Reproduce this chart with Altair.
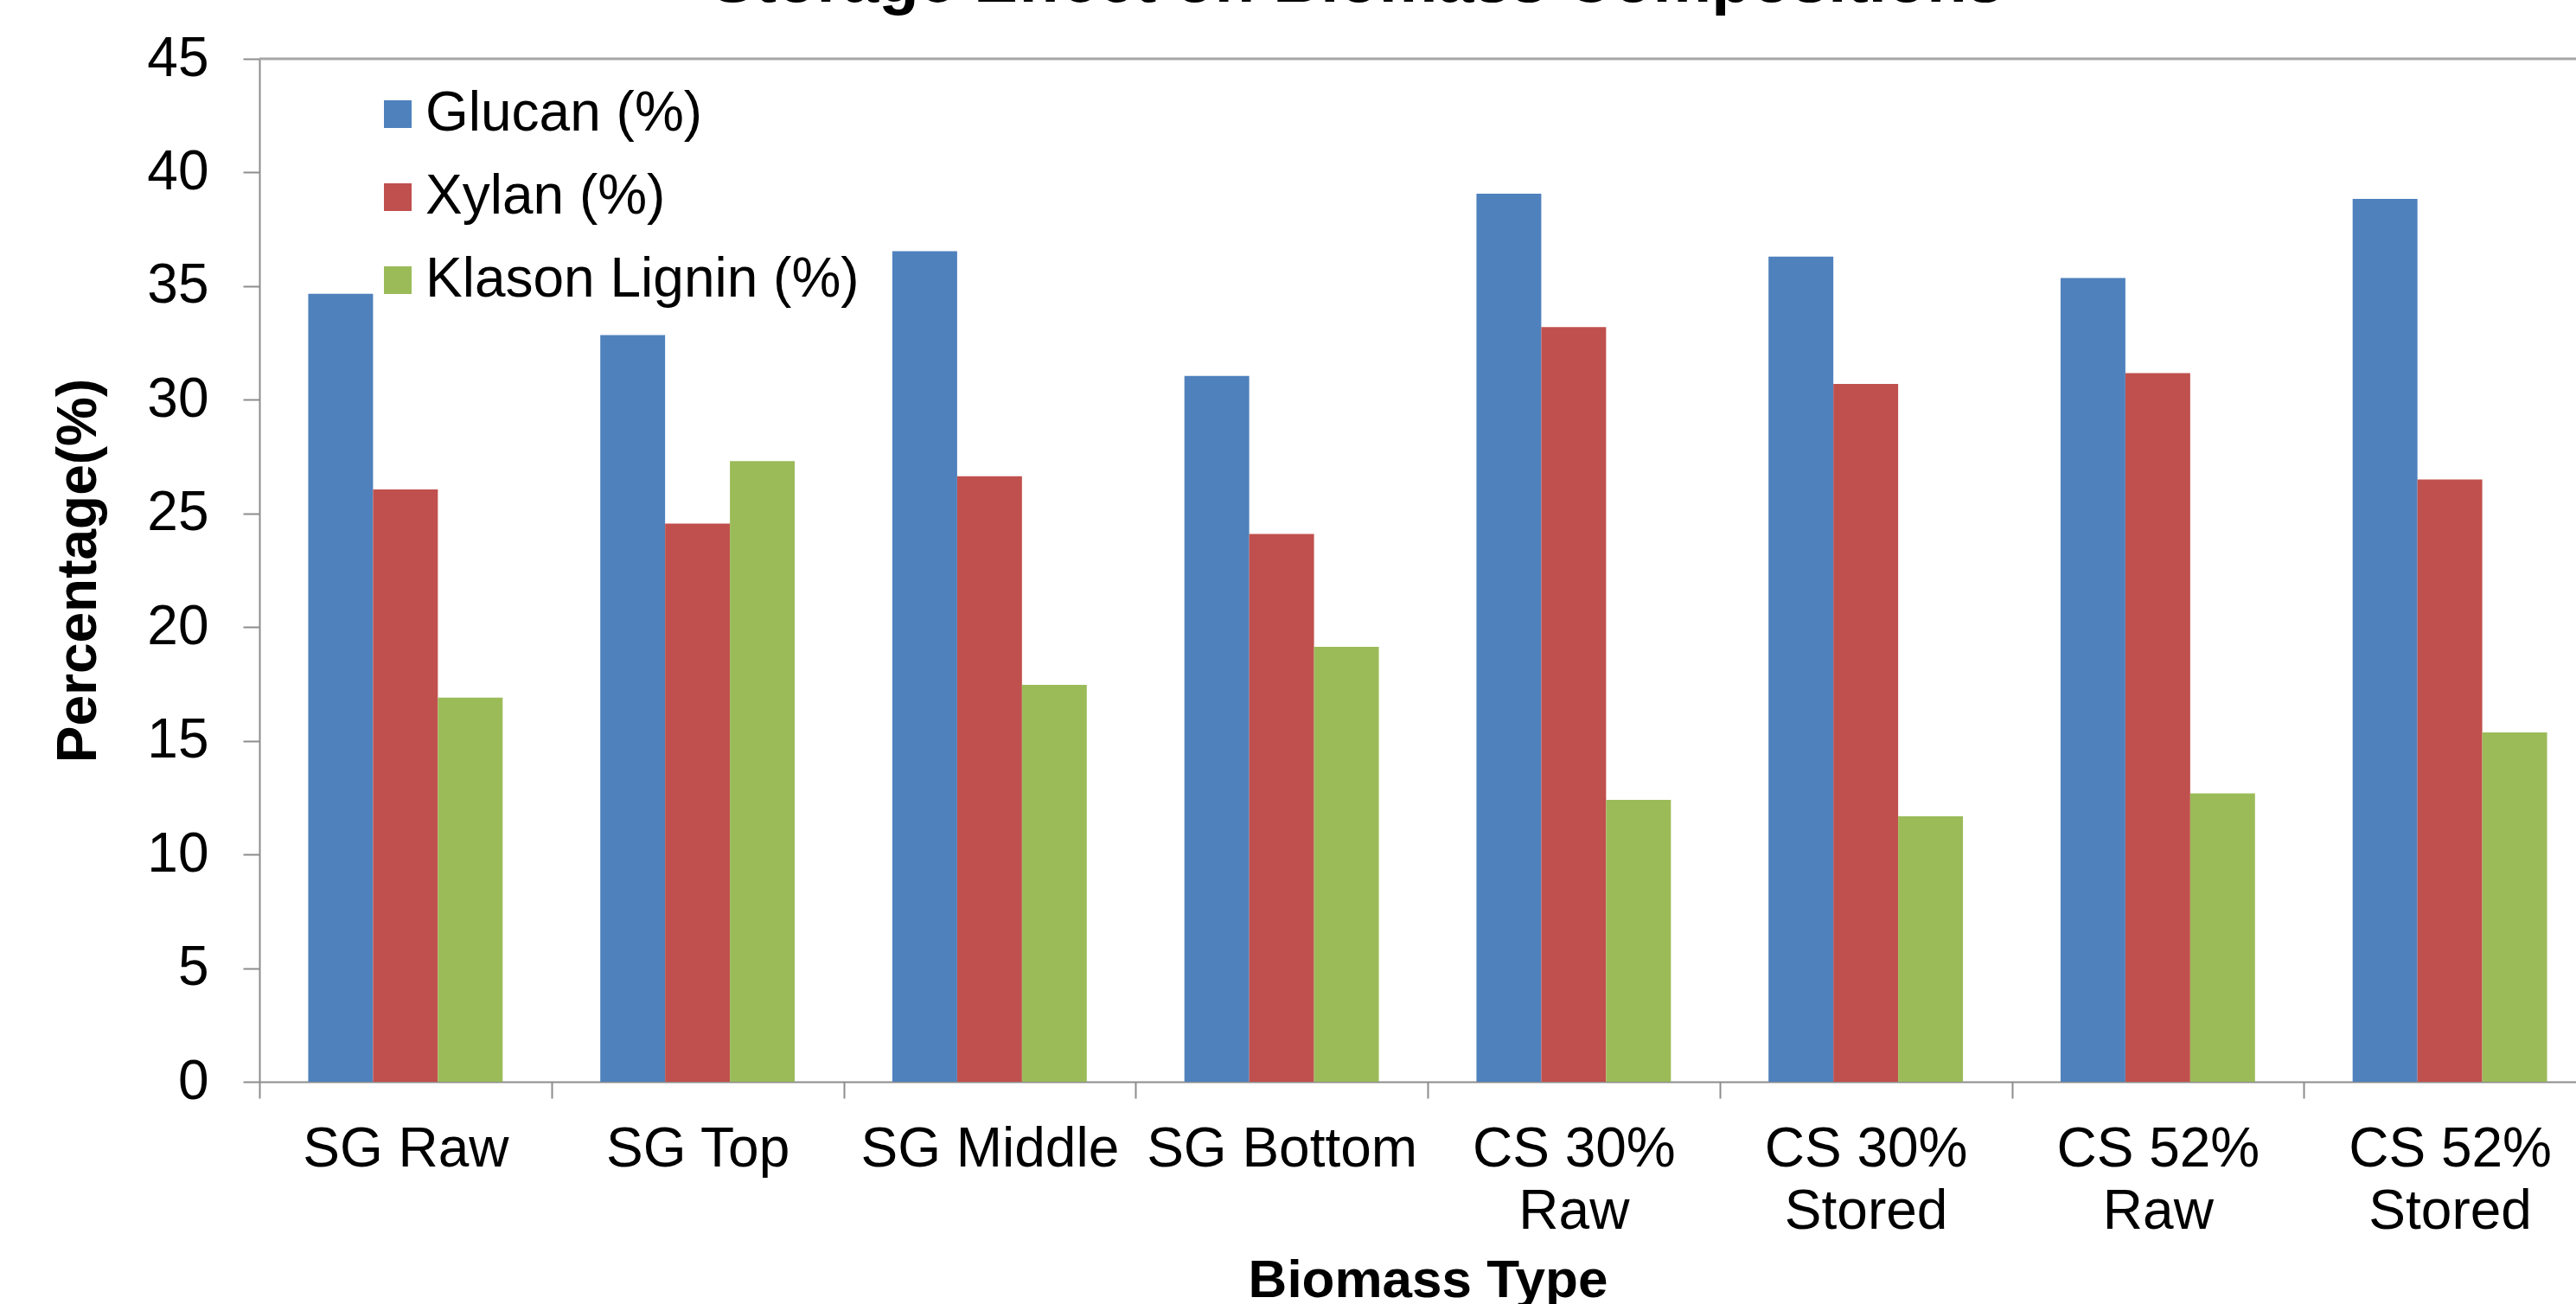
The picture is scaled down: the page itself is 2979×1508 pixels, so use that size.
import altair as alt
import pandas as pd

# ---- data ----
categories = ["SG Raw", "SG Top", "SG Middle", "SG Bottom",
              "CS 30% Raw", "CS 30% Stored", "CS 52% Raw", "CS 52% Stored"]
series = ["Glucan (%)", "Xylan (%)", "Klason Lignin (%)"]
glucan = [34.66, 32.85, 36.54, 31.05, 39.07, 36.30, 35.36, 38.84]
xylan = [26.06, 24.55, 26.64, 24.10, 33.20, 30.70, 31.17, 26.49]
lignin = [16.90, 27.30, 17.46, 19.13, 12.40, 11.68, 12.69, 15.37]
colors = ["#4F81BD", "#C0504D", "#9BBB59"]
y_ticks = [0, 5, 10, 15, 20, 25, 30, 35, 40, 45]
y_max = [45]

rows = []
for s, vals in zip(series, [glucan, xylan, lignin]):
    for c, v in zip(categories, vals):
        rows.append({"Biomass Type": c, "Series": s, "Value": v})
df = pd.DataFrame(rows)

FONT = "Liberation Sans"
AXIS_GRAY = "#8C8C8C"
PLOT_W = 2679
PLOT_H = 1183
X_RANGE = 2702

x_enc = alt.X(
    "Biomass Type:N",
    sort=categories,
    scale=alt.Scale(paddingInner=0, paddingOuter=0, range=[0, X_RANGE]),
    axis=alt.Axis(
        title="Biomass Type",
        titleFont=FONT, titleFontSize=62, titleFontWeight="bold", titleColor="black",
        titlePadding=17,
        labelFont=FONT, labelFontSize=64, labelColor="black", labelAngle=0,
        labelPadding=27, labelLineHeight=72, labelLimit=0,
        labelExpr="indexof(datum.label, 'CS') == 0 ? [substring(datum.label, 0, 6), substring(datum.label, 7)] : datum.label",
        tickBand="extent", tickSize=19, tickColor=AXIS_GRAY, tickWidth=2,
        domainColor=AXIS_GRAY, domainWidth=2, grid=False,
    ),
)

y_scale = alt.Scale(domain=[0, 45], nice=False)

bars = alt.Chart(df).mark_bar().encode(
    x=x_enc,
    xOffset=alt.XOffset("Series:N", sort=series,
                        scale=alt.Scale(paddingInner=0, paddingOuter=0.753)),
    y=alt.Y(
        "Value:Q",
        scale=y_scale,
        axis=alt.Axis(
            title="Percentage(%)",
            titleFont=FONT, titleFontSize=64, titleFontWeight="bold", titleColor="black",
            titlePadding=46,
            labelFont=FONT, labelFontSize=64, labelColor="black", labelPadding=40,
            values=y_ticks, tickSize=19, tickColor=AXIS_GRAY, tickWidth=2,
            domainColor=AXIS_GRAY, domainWidth=2, grid=False,
        ),
    ),
    color=alt.Color(
        "Series:N",
        sort=series,
        scale=alt.Scale(domain=series, range=colors),
        legend=alt.Legend(
            title=None, orient="none", legendX=128, legendY=32,
            symbolType="square", symbolSize=1024, symbolStrokeWidth=0,
            labelFont=FONT, labelFontSize=64, labelColor="black",
            labelOffset=0, rowPadding=32, padding=0, labelLimit=0,
        ),
    ),
)

top_line = alt.Chart(pd.DataFrame({"v": y_max})).mark_rule(
    color="#A6A6A6", strokeWidth=3
).encode(y=alt.Y("v:Q", scale=y_scale))

chart = alt.layer(bars, top_line).properties(
    width=PLOT_W,
    height=PLOT_H,
    title=alt.Title(
        "Storage Effect on Biomass Compositions",
        font=FONT, fontSize=76, fontWeight="bold", color="black",
        anchor="middle", dx=-70, baseline="alphabetic", offset=-42,
    ),
    autosize=alt.AutoSizeParams(type="none"),
    padding={"left": 300, "top": 68, "right": 0, "bottom": 257},
).configure_view(stroke=None).configure(background="white")

chart.save("out.html", embed_options={"renderer": "svg", "actions": False})
